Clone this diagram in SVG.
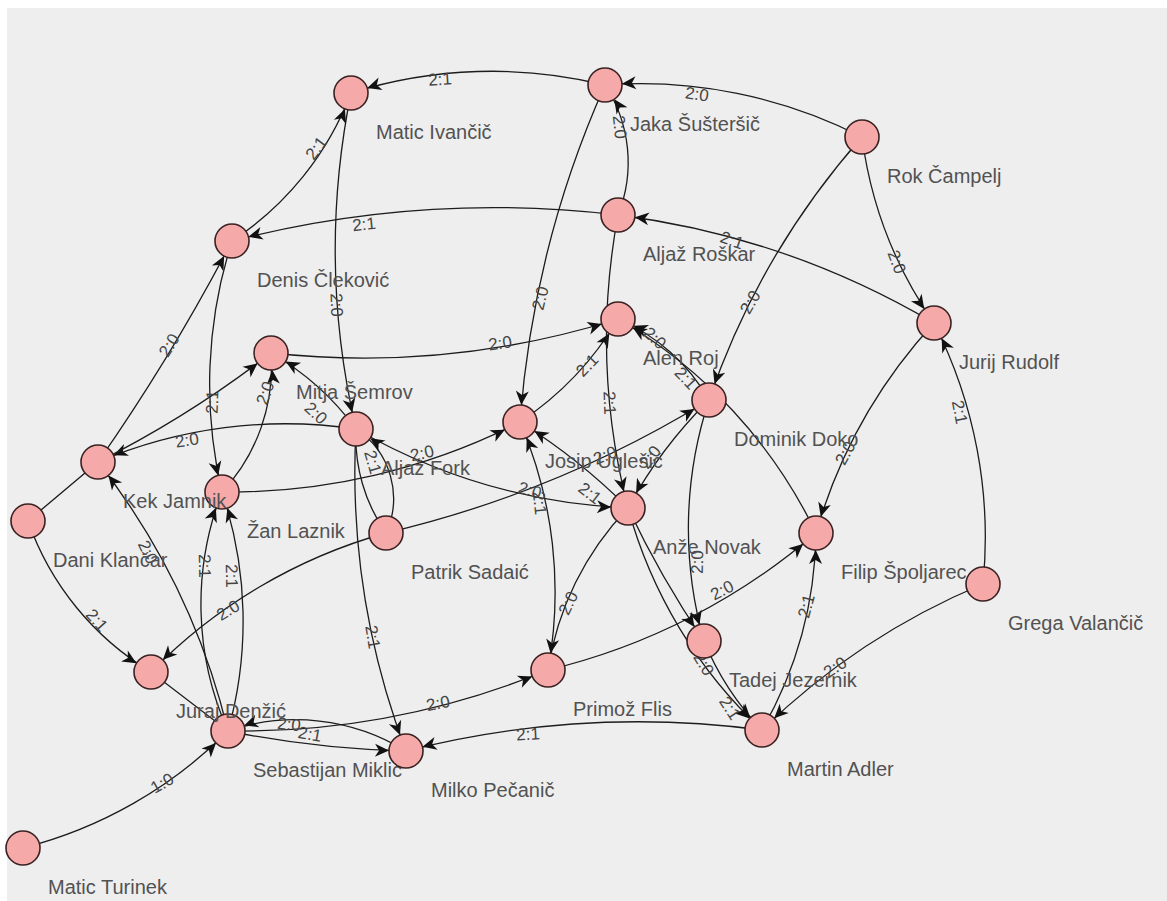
<svg xmlns="http://www.w3.org/2000/svg" width="1167" height="901" viewBox="0 0 1167 901">
<style>
.edge{fill:none;stroke:#1c1c1c;stroke-width:1.3}
.arr{marker-end:url(#ah)}
.el{font-family:"Liberation Sans",Arial,sans-serif;font-size:17px;fill:#454545;text-anchor:middle}
.node circle{fill:#f6a9a9;stroke:#3a2222;stroke-width:1.6}
.node text{font-family:"Liberation Sans",Arial,sans-serif;font-size:20px;fill:#525252}
</style>
<defs>
<marker id="ah" markerUnits="userSpaceOnUse" viewBox="-34 -8 36 16" markerWidth="36" markerHeight="16" refX="0" refY="0" orient="auto" overflow="visible">
<path d="M-17,0 L-31,-6.5 L-27,0 L-31,6.5 Z" fill="#111"/>
</marker>
</defs>
<rect width="1167" height="901" fill="#fff"/>
<rect x="7" y="8" width="1160" height="893" fill="#eeeeee"/>
<g id="connectors">
<path class="edge arr" d="M605,85 A470,470 0 0 0 351,93"/>
<path class="edge arr" d="M862,137 A486,486 0 0 0 605,85"/>
<path class="edge arr" d="M618,215 A141,141 0 0 0 605,85"/>
<path class="edge arr" d="M605,85 A1014,1014 0 0 0 520,422"/>
<path class="edge arr" d="M618,215 A1049,1049 0 0 0 232,241"/>
<path class="edge arr" d="M934,323 A828,828 0 0 0 618,215"/>
<path class="edge arr" d="M862,137 A420,420 0 0 0 934,323"/>
<path class="edge arr" d="M862,137 A779,779 0 0 0 709,400"/>
<path class="edge arr" d="M934,323 A525,525 0 0 0 816,533"/>
<path class="edge arr" d="M983,584 A473,473 0 0 0 934,323"/>
<path class="edge arr" d="M983,584 A708,708 0 0 0 762,730"/>
<path class="edge arr" d="M351,93 A793,793 0 0 0 356,429"/>
<path class="edge arr" d="M232,241 A308,308 0 0 0 351,93"/>
<path class="edge arr" d="M28,521 L98,462 Q172,356 232,241"/>
<path class="edge arr" d="M28,521 A287,287 0 0 0 151,672"/>
<path class="edge arr" d="M356,429 A479,479 0 0 0 98,462"/>
<path class="edge arr" d="M98,462 A1048,1048 0 0 0 271,353"/>
<path class="edge arr" d="M232,241 A472,472 0 0 0 222,492"/>
<path class="edge arr" d="M222,492 A183,183 0 0 0 271,353"/>
<path class="edge arr" d="M356,429 A274,274 0 0 0 271,353"/>
<path class="edge arr" d="M271,353 A853,853 0 0 0 618,319"/>
<path class="edge arr" d="M520,422 A320,320 0 0 0 618,319"/>
<path class="edge arr" d="M709,400 A190,190 0 0 0 618,319"/>
<path class="edge arr" d="M816,533 A494,494 0 0 0 618,319"/>
<path class="edge arr" d="M618,215 A680,680 0 0 0 628,508"/>
<path class="edge arr" d="M386,533 A1096,1096 0 0 0 709,400"/>
<path class="edge arr" d="M709,400 A458,458 0 0 0 628,508"/>
<path class="edge arr" d="M709,400 A412,412 0 0 0 704,641"/>
<path class="edge arr" d="M356,429 A598,598 0 0 0 628,508"/>
<path class="edge arr" d="M222,492 A642,642 0 0 0 520,422"/>
<path class="edge arr" d="M628,508 A598,598 0 0 0 520,422"/>
<path class="edge arr" d="M548,670 A430,430 0 0 0 520,422"/>
<path class="edge arr" d="M628,508 A298,298 0 0 0 548,670"/>
<path class="edge arr" d="M386,533 A527,527 0 0 0 151,672"/>
<path class="edge arr" d="M386,533 A83,83 0 0 0 356,429"/>
<path class="edge" d="M356,429 A167,167 0 0 0 386,533"/>
<path class="edge arr" d="M356,429 A789,789 0 0 0 406,751"/>
<path class="edge arr" d="M228,731 A705,705 0 0 0 98,462"/>
<path class="edge arr" d="M228,731 A406,406 0 0 0 222,492"/>
<path class="edge arr" d="M228,731 A310,310 0 0 1 222,492"/>
<path class="edge arr" d="M151,672 L228,731 A1004,1004 0 0 0 406,751"/>
<path class="edge arr" d="M406,751 A210,210 0 0 0 228,731"/>
<path class="edge arr" d="M228,731 A812,812 0 0 0 548,670"/>
<path class="edge arr" d="M762,730 A943,943 0 0 0 406,751"/>
<path class="edge arr" d="M23,848 A443,443 0 0 0 228,731"/>
<path class="edge arr" d="M548,670 A638,638 0 0 0 816,533"/>
<path class="edge arr" d="M762,730 A408,408 0 0 0 816,533"/>
<path class="edge arr" d="M628,508 A476,476 0 0 0 762,730"/>
<path class="edge arr" d="M628,508 A979,979 0 0 0 704,641"/>
<path class="edge arr" d="M704,641 A284,284 0 0 0 762,730"/>
<g id="edge-labels">
<text class="el" transform="translate(440 79) rotate(-4)" y="6">2:1</text>
<text class="el" transform="translate(697 94) rotate(8)" y="6">2:0</text>
<text class="el" transform="translate(620 127) rotate(84)" y="6">2:0</text>
<text class="el" transform="translate(540 298) rotate(-76)" y="6">2:0</text>
<text class="el" transform="translate(364 224) rotate(-6)" y="6">2:1</text>
<text class="el" transform="translate(732 240) rotate(19)" y="6">2:1</text>
<text class="el" transform="translate(897 262) rotate(69)" y="6">2:0</text>
<text class="el" transform="translate(750 302) rotate(-60)" y="6">2:0</text>
<text class="el" transform="translate(845 453) rotate(-61)" y="6">2:0</text>
<text class="el" transform="translate(960 412) rotate(79)" y="6">2:1</text>
<text class="el" transform="translate(835 667) rotate(-33)" y="6">2:0</text>
<text class="el" transform="translate(337 305) rotate(88)" y="6">2:0</text>
<text class="el" transform="translate(316 148) rotate(-53)" y="6">2:1</text>
<text class="el" transform="translate(169 345) rotate(-58)" y="6">2:0</text>
<text class="el" transform="translate(97 620) rotate(48)" y="6">2:1</text>
<text class="el" transform="translate(187 440) rotate(-9)" y="6">2:0</text>
<text class="el" transform="translate(212 402) rotate(-88)" y="6">2:1</text>
<text class="el" transform="translate(265 393) rotate(-71)" y="6">2:0</text>
<text class="el" transform="translate(316 413) rotate(42)" y="6">2:0</text>
<text class="el" transform="translate(500 343) rotate(-8)" y="6">2:0</text>
<text class="el" transform="translate(587 365) rotate(-46)" y="6">2:1</text>
<text class="el" transform="translate(655 338) rotate(42)" y="6">2:0</text>
<text class="el" transform="translate(686 378) rotate(47)" y="6">2:1</text>
<text class="el" transform="translate(610 403) rotate(88)" y="6">2:1</text>
<text class="el" transform="translate(605 455) rotate(-22)" y="6">2:0</text>
<text class="el" transform="translate(650 457) rotate(-53)" y="6">2:0</text>
<text class="el" transform="translate(697 562) rotate(-89)" y="6">2:0</text>
<text class="el" transform="translate(530 490) rotate(16)" y="6">2:0</text>
<text class="el" transform="translate(422 453) rotate(-13)" y="6">2:0</text>
<text class="el" transform="translate(590 493) rotate(38)" y="6">2:1</text>
<text class="el" transform="translate(540 503) rotate(84)" y="6">2:1</text>
<text class="el" transform="translate(568 603) rotate(-64)" y="6">2:0</text>
<text class="el" transform="translate(228 610) rotate(-31)" y="6">2:0</text>
<text class="el" transform="translate(373 462) rotate(74)" y="6">2:1</text>
<text class="el" transform="translate(373 637) rotate(81)" y="6">2:1</text>
<text class="el" transform="translate(148 552) rotate(64)" y="6">2:0</text>
<text class="el" transform="translate(232 576) rotate(89)" y="6">2:1</text>
<text class="el" transform="translate(205 566) rotate(89)" y="6">2:1</text>
<text class="el" transform="translate(310 734) rotate(10)" y="6">2:1</text>
<text class="el" transform="translate(289 724) rotate(6)" y="6">2:0</text>
<text class="el" transform="translate(438 703) rotate(-11)" y="6">2:0</text>
<text class="el" transform="translate(528 734) rotate(-3)" y="6">2:1</text>
<text class="el" transform="translate(162 783) rotate(-30)" y="6">1:0</text>
<text class="el" transform="translate(722 590) rotate(-27)" y="6">2:0</text>
<text class="el" transform="translate(806 606) rotate(-75)" y="6">2:1</text>
<text class="el" transform="translate(704 664) rotate(59)" y="6">2:0</text>
<text class="el" transform="translate(730 708) rotate(57)" y="6">2:1</text>
</g>
</g>
<g id="n-ivancic" class="node"><circle cx="351" cy="93" r="17"/><text x="376" y="139">Matic Ivančič</text></g>
<g id="n-sustersic" class="node"><circle cx="605" cy="85" r="17"/><text x="630" y="131">Jaka Šušteršič</text></g>
<g id="n-campelj" class="node"><circle cx="862" cy="137" r="17"/><text x="887" y="183">Rok Čampelj</text></g>
<g id="n-roskar" class="node"><circle cx="618" cy="215" r="17"/><text x="643" y="261">Aljaž Roškar</text></g>
<g id="n-clekovic" class="node"><circle cx="232" cy="241" r="17"/><text x="257" y="287">Denis Čleković</text></g>
<g id="n-rudolf" class="node"><circle cx="934" cy="323" r="17"/><text x="959" y="369">Jurij Rudolf</text></g>
<g id="n-roj" class="node"><circle cx="618" cy="319" r="17"/><text x="643" y="365">Alen Roj</text></g>
<g id="n-semrov" class="node"><circle cx="271" cy="353" r="17"/><text x="296" y="399">Mitja Šemrov</text></g>
<g id="n-doko" class="node"><circle cx="709" cy="400" r="17"/><text x="734" y="446">Dominik Doko</text></g>
<g id="n-uglesic" class="node"><circle cx="520" cy="422" r="17"/><text x="545" y="468">Josip Uglešić</text></g>
<g id="n-laznik" class="node"><circle cx="222" cy="492" r="17"/><text x="247" y="538">Žan Laznik</text></g>
<g id="n-jamnik" class="node"><circle cx="98" cy="462" r="17"/><text x="123" y="508">Kek Jamnik</text></g>
<g id="n-fork" class="node"><circle cx="356" cy="429" r="17"/><text x="381" y="475">Aljaž Fork</text></g>
<g id="n-sadaic" class="node"><circle cx="386" cy="533" r="17"/><text x="411" y="579">Patrik Sadaić</text></g>
<g id="n-novak" class="node"><circle cx="628" cy="508" r="17"/><text x="653" y="554">Anže Novak</text></g>
<g id="n-spoljarec" class="node"><circle cx="816" cy="533" r="17"/><text x="841" y="579">Filip Špoljarec</text></g>
<g id="n-valancic" class="node"><circle cx="983" cy="584" r="17"/><text x="1008" y="630">Grega Valančič</text></g>
<g id="n-klancar" class="node"><circle cx="28" cy="521" r="17"/><text x="53" y="567">Dani Klančar</text></g>
<g id="n-jezernik" class="node"><circle cx="704" cy="641" r="17"/><text x="729" y="687">Tadej Jezernik</text></g>
<g id="n-flis" class="node"><circle cx="548" cy="670" r="17"/><text x="573" y="716">Primož Flis</text></g>
<g id="n-miklic" class="node"><circle cx="228" cy="731" r="17"/><text x="253" y="777">Sebastijan Miklič</text></g>
<g id="n-denzic" class="node"><circle cx="151" cy="672" r="17"/><text x="176" y="718">Juraj Denžić</text></g>
<g id="n-pecanic" class="node"><circle cx="406" cy="751" r="17"/><text x="431" y="797">Milko Pečanič</text></g>
<g id="n-adler" class="node"><circle cx="762" cy="730" r="17"/><text x="787" y="776">Martin Adler</text></g>
<g id="n-turinek" class="node"><circle cx="23" cy="848" r="17"/><text x="48" y="894">Matic Turinek</text></g>
</svg>
